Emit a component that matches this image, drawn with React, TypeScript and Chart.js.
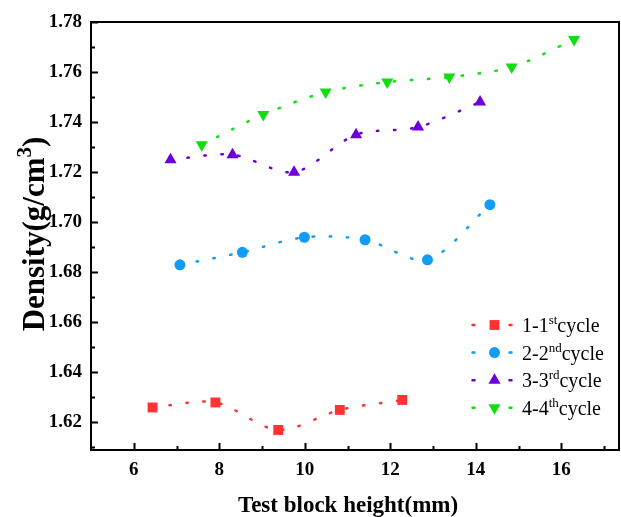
import React, { useEffect, useRef } from 'react';
import { Chart, registerables } from 'chart.js';

Chart.register(...registerables);

// Axis ticks
const xTicks = [6, 8, 10, 12, 14, 16];
const xMinorTicks = [7, 9, 11, 13, 15, 17];
const yTicks = [1.62, 1.64, 1.66, 1.68, 1.7, 1.72, 1.74, 1.76, 1.78];
const yMinorTicks = [1.61, 1.63, 1.65, 1.67, 1.69, 1.71, 1.73, 1.75, 1.77];

// Series labels (prefix + superscript + suffix)
const seriesPrefix = ['1-1', '2-2', '3-3', '4-4'];
const seriesSup = ['st', 'nd', 'rd', 'th'];
const seriesSuffix = 'cycle';

// Measured densities per freeze-thaw cycle
const cycle1X = [6.44, 7.91, 9.38, 10.82, 12.28];
const cycle1Y = [1.626, 1.628, 1.617, 1.625, 1.629];

const cycle2X = [7.08, 8.54, 9.99, 11.41, 12.87, 14.33];
const cycle2Y = [1.683, 1.688, 1.694, 1.693, 1.685, 1.707];

const cycle3X = [6.86, 8.31, 9.75, 11.2, 12.65, 14.1];
const cycle3Y = [1.725, 1.727, 1.72, 1.735, 1.738, 1.748];

const cycle4X = [7.59, 9.03, 10.49, 11.93, 13.38, 14.84, 16.3];
const cycle4Y = [1.731, 1.743, 1.752, 1.756, 1.758, 1.762, 1.773];

const colors = ['#FF3333', '#139CF6', '#6B00D8', '#11DD11'];
const pointStyles = ['rect', 'circle', 'triangle', 'triangle'];
const pointRotations = [0, 0, 0, 180];
const pointRadii = [7, 5.5, 7, 7];

const FONT = '"Liberation Serif", "Times New Roman", serif';

function toPoints(xs: number[], ys: number[]) {
  return xs.map((x, i) => ({ x, y: ys[i] }));
}

function drawMarker(ctx: CanvasRenderingContext2D, style: string, rot: number, x: number, y: number, r: number) {
  ctx.beginPath();
  if (style === 'rect') {
    const s = Math.SQRT1_2 * r;
    ctx.rect(x - s, y - s, 2 * s, 2 * s);
  } else if (style === 'circle') {
    ctx.arc(x, y, r, 0, Math.PI * 2);
  } else {
    let rad = (rot * Math.PI) / 180;
    for (let k = 0; k < 3; k++) {
      const px = x + Math.sin(rad) * r;
      const py = y - Math.cos(rad) * r;
      if (k === 0) ctx.moveTo(px, py);
      else ctx.lineTo(px, py);
      rad += (2 * Math.PI) / 3;
    }
    ctx.closePath();
  }
  ctx.fill();
}

const decorPlugin = {
  id: 'decor',
  afterDatasetsDraw(chart: any) {
    const { ctx, chartArea: a } = chart;
    const xs = chart.scales.x;
    const ys = chart.scales.y;
    ctx.save();

    // frame
    ctx.strokeStyle = '#000';
    ctx.lineWidth = 2;
    ctx.strokeRect(a.left, a.top, a.right - a.left, a.bottom - a.top);

    // inward ticks
    ctx.beginPath();
    xTicks.forEach((v) => {
      const px = Math.round(xs.getPixelForValue(v)) + 0.5;
      ctx.moveTo(px, a.bottom);
      ctx.lineTo(px, a.bottom - 7);
    });
    xMinorTicks.forEach((v) => {
      const px = Math.round(xs.getPixelForValue(v)) + 0.5;
      if (px > a.right - 2) return;
      ctx.moveTo(px, a.bottom);
      ctx.lineTo(px, a.bottom - 4);
    });
    yTicks.forEach((v) => {
      const py = Math.round(ys.getPixelForValue(v)) + 0.5;
      ctx.moveTo(a.left, py);
      ctx.lineTo(a.left + 7, py);
    });
    yMinorTicks.forEach((v) => {
      const py = Math.round(ys.getPixelForValue(v)) + 0.5;
      if (py > a.bottom - 2) return;
      ctx.moveTo(a.left, py);
      ctx.lineTo(a.left + 4, py);
    });
    ctx.stroke();

    // x-axis title
    ctx.fillStyle = '#000';
    ctx.font = `bold 23px ${FONT}`;
    ctx.textAlign = 'center';
    ctx.textBaseline = 'alphabetic';
    ctx.fillText('Test block height(mm)', 348, 512);

    // y-axis title with superscript
    ctx.save();
    ctx.translate(44, 234);
    ctx.rotate(-Math.PI / 2);
    ctx.textAlign = 'left';
    const mainFont = `bold 31px ${FONT}`;
    const supFont = `bold 21px ${FONT}`;
    ctx.font = mainFont;
    const w1 = ctx.measureText('Density(g/cm').width;
    const w3 = ctx.measureText(')').width;
    ctx.font = supFont;
    const w2 = ctx.measureText('3').width;
    let cx = -(w1 + w2 + w3) / 2;
    ctx.font = mainFont;
    ctx.fillText('Density(g/cm', cx, 0);
    cx += w1;
    ctx.font = supFont;
    ctx.fillText('3', cx, -13);
    cx += w2;
    ctx.font = mainFont;
    ctx.fillText(')', cx, 0);
    ctx.restore();

    // legend
    const rowY0 = 325;
    const rowStep = 27.6;
    for (let i = 0; i < 4; i++) {
      const ry = rowY0 + i * rowStep;
      ctx.fillStyle = colors[i];
      ctx.strokeStyle = colors[i];
      ctx.lineWidth = 2.5;
      ctx.lineCap = 'round';
      ctx.beginPath();
      ctx.moveTo(472.5, ry);
      ctx.lineTo(474.5, ry);
      ctx.moveTo(509.5, ry);
      ctx.lineTo(511.5, ry);
      ctx.stroke();
      drawMarker(ctx, pointStyles[i], pointRotations[i], 494.5, ry, pointRadii[i]);

      ctx.fillStyle = '#000';
      ctx.textAlign = 'left';
      ctx.textBaseline = 'alphabetic';
      const base = ry + 7;
      let tx = 522;
      ctx.font = `20px ${FONT}`;
      ctx.fillText(seriesPrefix[i], tx, base);
      tx += ctx.measureText(seriesPrefix[i]).width;
      ctx.font = `13px ${FONT}`;
      ctx.fillText(seriesSup[i], tx, base - 8);
      tx += ctx.measureText(seriesSup[i]).width;
      ctx.font = `20px ${FONT}`;
      ctx.fillText(seriesSuffix, tx, base);
    }

    ctx.restore();
  },
};

export default function App() {
  const canvasRef = useRef<HTMLCanvasElement | null>(null);

  useEffect(() => {
    const canvas = canvasRef.current;
    if (!canvas) return;

    const series = [
      toPoints(cycle1X, cycle1Y),
      toPoints(cycle2X, cycle2Y),
      toPoints(cycle3X, cycle3Y),
      toPoints(cycle4X, cycle4Y),
    ];

    const chart = new Chart(canvas, {
      type: 'line',
      data: {
        datasets: series.map((pts, i) => ({
          label: seriesPrefix[i] + seriesSup[i] + seriesSuffix,
          data: pts,
          borderColor: colors[i],
          backgroundColor: colors[i],
          borderWidth: 2.5,
          borderDash: [1.5, 15.5],
          borderCapStyle: 'round' as const,
          tension: 0.3,
          pointStyle: pointStyles[i] as any,
          pointRotation: pointRotations[i],
          pointRadius: pointRadii[i],
          pointBorderWidth: 0,
          pointBackgroundColor: colors[i],
          pointBorderColor: colors[i],
        })),
      },
      options: {
        animation: false,
        responsive: false,
        devicePixelRatio: 1,
        layout: { autoPadding: false, padding: { left: 0, top: 22, right: 2, bottom: 0 } },
        plugins: {
          legend: { display: false },
          tooltip: { enabled: false },
        },
        scales: {
          x: {
            type: 'linear',
            min: 5,
            max: 17.35,
            grid: { display: false, drawTicks: false },
            border: { display: false },
            afterBuildTicks: (s: any) => {
              s.ticks = xTicks.map((v) => ({ value: v }));
            },
            afterFit: (s: any) => {
              s.height = 67;
              s.paddingLeft = 0;
              s.paddingRight = 0;
            },
            ticks: {
              padding: 9,
              color: '#000',
              font: { family: FONT, size: 19, weight: 'bold' },
              maxRotation: 0,
              callback: (v: any) => String(v),
            },
          },
          y: {
            type: 'linear',
            min: 1.609,
            max: 1.78,
            grid: { display: false, drawTicks: false },
            border: { display: false },
            afterBuildTicks: (s: any) => {
              s.ticks = yTicks.map((v) => ({ value: v }));
            },
            afterFit: (s: any) => {
              s.width = 91;
              s.paddingTop = 0;
              s.paddingBottom = 0;
            },
            ticks: {
              padding: 9,
              color: '#000',
              font: { family: FONT, size: 19, weight: 'bold' },
              callback: (v: any) => Number(v).toFixed(2),
            },
          },
        },
      },
      plugins: [decorPlugin],
    });

    return () => chart.destroy();
  }, []);

  return (
    <div style={{ position: 'fixed', left: 0, top: 0, width: 621, height: 517, background: '#fff' }}>
      <canvas ref={canvasRef} width={621} height={517} style={{ width: 621, height: 517, display: 'block' }} />
    </div>
  );
}
